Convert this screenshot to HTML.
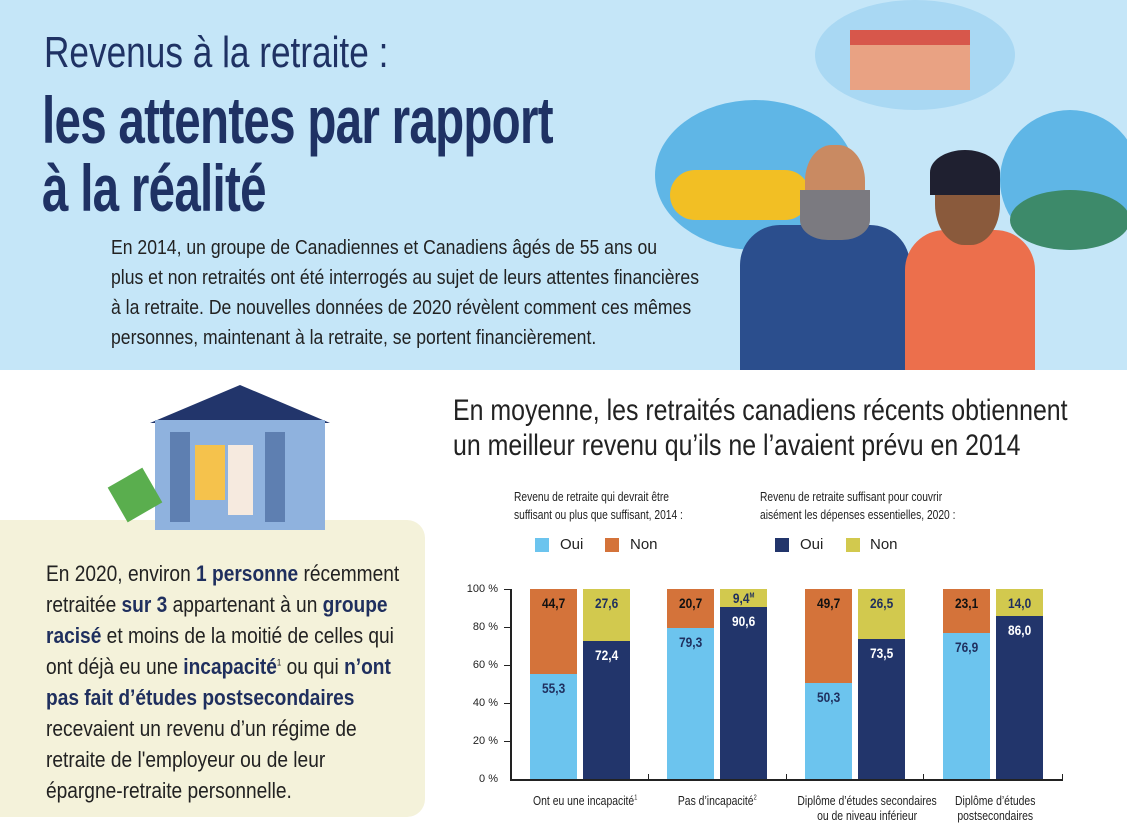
<!DOCTYPE html>
<html><head><meta charset="utf-8"><style>
*{margin:0;padding:0;box-sizing:border-box}
body{width:1127px;height:835px;overflow:hidden;background:#fff;font-family:"Liberation Sans",sans-serif;position:relative}
.l{position:absolute;white-space:nowrap;transform-origin:0 0;color:#222}
sup{line-height:0}
.top{position:absolute;left:0;top:0;width:1127px;height:370px;background:#c5e6f8}
.box{position:absolute;left:0;top:520px;width:425px;height:297px;background:#f4f2da;border-radius:0 18px 18px 0}
b{color:#1f2f5e}
.bar{position:absolute;display:flex;align-items:flex-start;justify-content:center;font-weight:bold;font-size:14px;padding-top:6px}
.bar span{display:inline-block;transform:scaleX(.85)}
.yl{position:absolute;font-size:11px;color:#222;width:40px;text-align:right;left:458px}
.cat{position:absolute;font-size:13px;text-align:center;color:#222;line-height:15px;white-space:nowrap}
.cat span{display:inline-block;transform:scaleX(.8)}
.sq{position:absolute;width:14px;height:14px}
</style></head><body>
<div class="top"></div>
<div style="position:absolute;left:655px;top:100px;width:200px;height:150px;border-radius:50%;background:#5fb6e6"></div>
<div style="position:absolute;left:815px;top:0px;width:200px;height:110px;border-radius:50%;background:#a9d8f3"></div>
<div style="position:absolute;left:850px;top:30px;width:120px;height:60px;background:#e9a283"></div>
<div style="position:absolute;left:850px;top:30px;width:120px;height:15px;background:#d7574b"></div>
<div style="position:absolute;left:1000px;top:110px;width:140px;height:140px;border-radius:50%;background:#5fb6e6"></div>
<div style="position:absolute;left:1010px;top:190px;width:120px;height:60px;border-radius:50%;background:#3d8a6a"></div>
<div style="position:absolute;left:670px;top:170px;width:140px;height:50px;border-radius:25px;background:#f2bf24"></div>
<div style="position:absolute;left:740px;top:225px;width:170px;height:145px;border-radius:40px 40px 0 0;background:#2b4e8d"></div>
<div style="position:absolute;left:805px;top:145px;width:60px;height:80px;border-radius:45%;background:#c98a62"></div>
<div style="position:absolute;left:800px;top:190px;width:70px;height:50px;border-radius:0 0 40% 40%;background:#7b7a80"></div>
<div style="position:absolute;left:905px;top:230px;width:130px;height:140px;border-radius:40px 40px 0 0;background:#ec6f4c"></div>
<div style="position:absolute;left:935px;top:155px;width:65px;height:90px;border-radius:45%;background:#8a5a3c"></div>
<div style="position:absolute;left:930px;top:150px;width:70px;height:45px;border-radius:50% 50% 0 0;background:#1f2030"></div>

<div class="l" style="left:44px;top:28px;font-size:44px;color:#1f3264;transform:scaleX(.8)">Revenus à la retraite :</div>
<div class="l" style="left:42px;top:82px;font-size:66px;font-weight:bold;color:#1f3264;transform:scaleX(.72);letter-spacing:-1px">les attentes par rapport</div>
<div class="l" style="left:42px;top:150px;font-size:66px;font-weight:bold;color:#1f3264;transform:scaleX(.72);letter-spacing:-1px">à la réalité</div>
<div class="l" style="left:111px;top:237px;font-size:20px;transform:scaleX(.88)">En 2014, un groupe de Canadiennes et Canadiens âgés de 55 ans ou</div>
<div class="l" style="left:111px;top:267px;font-size:20px;transform:scaleX(.88)">plus et non retraités ont été interrogés au sujet de leurs attentes financières</div>
<div class="l" style="left:111px;top:297px;font-size:20px;transform:scaleX(.88)">à la retraite. De nouvelles données de 2020 révèlent comment ces mêmes</div>
<div class="l" style="left:111px;top:327px;font-size:20px;transform:scaleX(.88)">personnes, maintenant à la retraite, se portent financièrement.</div>

<div class="box"></div>
<div style="position:absolute;left:150px;top:385px;width:0;height:0;border-left:90px solid transparent;border-right:90px solid transparent;border-bottom:38px solid #22356b"></div>
<div style="position:absolute;left:155px;top:420px;width:170px;height:110px;background:#8fb2de"></div>
<div style="position:absolute;left:170px;top:432px;width:20px;height:90px;background:#5e7fb1"></div>
<div style="position:absolute;left:265px;top:432px;width:20px;height:90px;background:#5e7fb1"></div>
<div style="position:absolute;left:115px;top:475px;width:40px;height:40px;background:#5aae4e;transform:rotate(-30deg)"></div>
<div style="position:absolute;left:195px;top:445px;width:30px;height:55px;background:#f5c24c"></div>
<div style="position:absolute;left:228px;top:445px;width:25px;height:70px;background:#f6eadf"></div>

<div class="l" style="left:46px;top:558px;font-size:22px;line-height:31px;transform:scaleX(.87)">En 2020, environ <b>1 personne</b> récemment</div>
<div class="l" style="left:46px;top:589px;font-size:22px;line-height:31px;transform:scaleX(.87)">retraitée <b>sur 3</b> appartenant à un <b>groupe</b></div>
<div class="l" style="left:46px;top:620px;font-size:22px;line-height:31px;transform:scaleX(.87)"><b>racisé</b> et moins de la moitié de celles qui</div>
<div class="l" style="left:46px;top:651px;font-size:22px;line-height:31px;transform:scaleX(.87)">ont déjà eu une <b>incapacité</b><sup style="font-size:9px">1</sup> ou qui <b>n’ont</b></div>
<div class="l" style="left:46px;top:682px;font-size:22px;line-height:31px;transform:scaleX(.87)"><b>pas fait d’études postsecondaires</b></div>
<div class="l" style="left:46px;top:713px;font-size:22px;line-height:31px;transform:scaleX(.87)">recevaient un revenu d’un régime de</div>
<div class="l" style="left:46px;top:744px;font-size:22px;line-height:31px;transform:scaleX(.87)">retraite de l'employeur ou de leur</div>
<div class="l" style="left:46px;top:775px;font-size:22px;line-height:31px;transform:scaleX(.87)">épargne-retraite personnelle.</div>

<div class="l" style="left:453px;top:394px;font-size:30px;transform:scaleX(.83)">En moyenne, les retraités canadiens récents obtiennent</div>
<div class="l" style="left:453px;top:429px;font-size:30px;transform:scaleX(.83)">un meilleur revenu qu’ils ne l’avaient prévu en 2014</div>

<div class="l" style="left:514px;top:488px;font-size:12.5px;line-height:18px;transform:scaleX(.82)">Revenu de retraite qui devrait être<br>suffisant ou plus que suffisant, 2014 :</div>
<div class="l" style="left:760px;top:488px;font-size:12.5px;line-height:18px;transform:scaleX(.82)">Revenu de retraite suffisant pour couvrir<br>aisément les dépenses essentielles, 2020 :</div>
<div class="sq" style="left:535px;top:538px;background:#6cc4ee"></div>
<div class="l" style="left:560px;top:536px;font-size:15px">Oui</div>
<div class="sq" style="left:605px;top:538px;background:#d4733a"></div>
<div class="l" style="left:630px;top:536px;font-size:15px">Non</div>
<div class="sq" style="left:775px;top:538px;background:#22356b"></div>
<div class="l" style="left:800px;top:536px;font-size:15px">Oui</div>
<div class="sq" style="left:846px;top:538px;background:#d2c94e"></div>
<div class="l" style="left:870px;top:536px;font-size:15px">Non</div>

<div style="position:absolute;left:510px;top:589px;width:2px;height:191px;background:#222"></div>
<div style="position:absolute;left:510px;top:779px;width:553px;height:2px;background:#222"></div>
<div style="position:absolute;left:504px;top:589px;width:7px;height:1px;background:#222"></div>
<div style="position:absolute;left:504px;top:627px;width:7px;height:1px;background:#222"></div>
<div style="position:absolute;left:504px;top:665px;width:7px;height:1px;background:#222"></div>
<div style="position:absolute;left:504px;top:703px;width:7px;height:1px;background:#222"></div>
<div style="position:absolute;left:504px;top:741px;width:7px;height:1px;background:#222"></div>
<div style="position:absolute;left:648px;top:774px;width:1px;height:6px;background:#222"></div>
<div style="position:absolute;left:786px;top:774px;width:1px;height:6px;background:#222"></div>
<div style="position:absolute;left:923px;top:774px;width:1px;height:6px;background:#222"></div>
<div style="position:absolute;left:1062px;top:774px;width:1px;height:6px;background:#222"></div>
<div class="yl" style="top:583px">100 %</div>
<div class="yl" style="top:621px">80 %</div>
<div class="yl" style="top:659px">60 %</div>
<div class="yl" style="top:697px">40 %</div>
<div class="yl" style="top:735px">20 %</div>
<div class="yl" style="top:773px">0 %</div>

<div class="bar" style="left:530px;top:589px;width:47px;height:85px;background:#d4733a;color:#111"><span>44,7</span></div>
<div class="bar" style="left:530px;top:674px;width:47px;height:105px;background:#6cc4ee;color:#1f2f5e"><span>55,3</span></div>
<div class="bar" style="left:583px;top:589px;width:47px;height:52px;background:#d2c94e;color:#1f2f5e"><span>27,6</span></div>
<div class="bar" style="left:583px;top:641px;width:47px;height:138px;background:#22356b;color:#fff"><span>72,4</span></div>

<div class="bar" style="left:667px;top:589px;width:47px;height:39px;background:#d4733a;color:#111"><span>20,7</span></div>
<div class="bar" style="left:667px;top:628px;width:47px;height:151px;background:#6cc4ee;color:#1f2f5e"><span>79,3</span></div>
<div class="bar" style="left:720px;top:589px;width:47px;height:18px;background:#d2c94e;color:#1f2f5e;padding-top:1px"><span>9,4<sup style="font-size:7px">M</sup></span></div>
<div class="bar" style="left:720px;top:607px;width:47px;height:172px;background:#22356b;color:#fff"><span>90,6</span></div>

<div class="bar" style="left:805px;top:589px;width:47px;height:94px;background:#d4733a;color:#111"><span>49,7</span></div>
<div class="bar" style="left:805px;top:683px;width:47px;height:96px;background:#6cc4ee;color:#1f2f5e"><span>50,3</span></div>
<div class="bar" style="left:858px;top:589px;width:47px;height:50px;background:#d2c94e;color:#1f2f5e"><span>26,5</span></div>
<div class="bar" style="left:858px;top:639px;width:47px;height:140px;background:#22356b;color:#fff"><span>73,5</span></div>

<div class="bar" style="left:943px;top:589px;width:47px;height:44px;background:#d4733a;color:#111"><span>23,1</span></div>
<div class="bar" style="left:943px;top:633px;width:47px;height:146px;background:#6cc4ee;color:#1f2f5e"><span>76,9</span></div>
<div class="bar" style="left:996px;top:589px;width:47px;height:27px;background:#d2c94e;color:#1f2f5e"><span>14,0</span></div>
<div class="bar" style="left:996px;top:616px;width:47px;height:163px;background:#22356b;color:#fff"><span>86,0</span></div>

<div class="cat" style="left:520px;top:793px;width:120px"><span>Ont eu une incapacité<sup style="font-size:7px">1</sup></span></div>
<div class="cat" style="left:660px;top:793px;width:115px"><span>Pas d’incapacité<sup style="font-size:7px">2</sup></span></div>
<div class="cat" style="left:780px;top:793px;width:150px"><span>Diplôme d’études secondaires<br>ou de niveau inférieur</span></div>
<div class="cat" style="left:945px;top:793px;width:100px"><span>Diplôme d’études<br>postsecondaires</span></div>
</body></html>
